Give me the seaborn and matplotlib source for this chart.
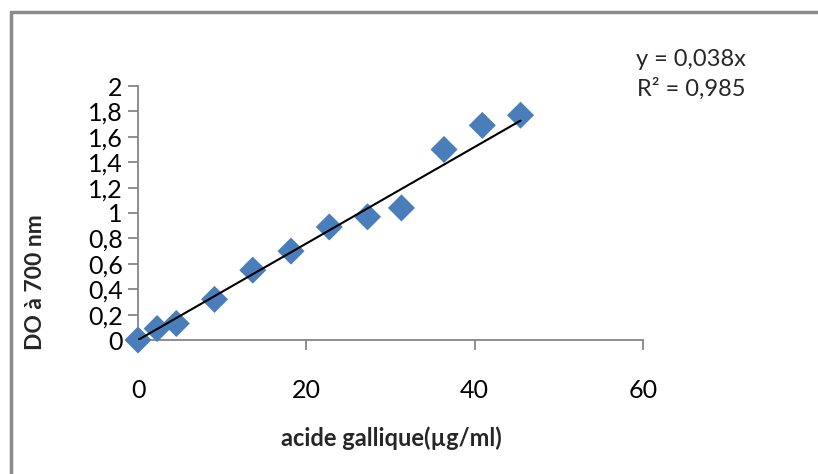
import matplotlib
matplotlib.use("Agg")
import matplotlib.pyplot as plt
from matplotlib.patches import Rectangle
import seaborn as sns
import pandas as pd
import numpy as np

# Gallic acid calibration: concentration (µg/ml) vs absorbance at 700 nm
concentration = [0, 2.27, 4.55, 9.09, 13.64, 18.18, 22.73, 27.27, 31.3, 36.36, 40.91, 45.45]
absorbance = [0.0, 0.09, 0.13, 0.32, 0.55, 0.70, 0.89, 0.97, 1.04, 1.50, 1.69, 1.77]
slope = 0.038
r_squared = 0.985
x_ticks = [0, 20, 40, 60]
y_ticks = [0, 0.2, 0.4, 0.6, 0.8, 1.0, 1.2, 1.4, 1.6, 1.8, 2.0]

df = pd.DataFrame({"conc": concentration, "do": absorbance})

sns.set_theme(style="white")
plt.rcParams["font.family"] = ["Lato", "DejaVu Sans"]

W, H = 818, 474
fig = plt.figure(figsize=(W / 100, H / 100), dpi=100)
ax = fig.add_axes([138 / W, 1 - 340 / H, (643 - 138) / W, (340 - 86) / H])

sns.scatterplot(data=df, x="conc", y="do", marker="D", s=190,
                color="#4A7EBB", edgecolor="none", ax=ax, zorder=3, clip_on=False)

# Linear trendline forced through the origin
xl = np.array([0, max(concentration)])
sns.lineplot(x=xl, y=slope * xl, color="black", linewidth=1.5, ax=ax, zorder=4)

ax.set_xlim(0, 60)
ax.set_ylim(0, 2)
ax.set_xticks(x_ticks)
ax.set_yticks(y_ticks)
ax.set_xticklabels([str(v) for v in x_ticks])
ax.set_yticklabels([("%g" % v).replace(".", ",") for v in y_ticks])

grey = "#868686"
for side in ["top", "right"]:
    ax.spines[side].set_visible(False)
for side in ["left", "bottom"]:
    ax.spines[side].set_color(grey)
    ax.spines[side].set_linewidth(1.3)

ax.tick_params(axis="both", which="major", direction="out", length=7, width=1.3,
               color=grey, labelsize=18, labelcolor="black")
ax.tick_params(axis="x", pad=21, bottom=True)
ax.tick_params(axis="y", pad=4, left=True)
ax.set_xlabel("")
ax.set_ylabel("")

fig.text(391 / W, 1 - 438 / H, "acide gallique(µg/ml)", ha="center", va="center",
         fontsize=17, fontweight="bold")
fig.text(36 / W, 1 - 282 / H, "DO à 700 nm", ha="center", va="center",
         rotation=90, fontsize=16.5, fontweight="bold")

fig.text(691 / W, 1 - 60 / H, "y = 0,038x", ha="center", va="center", fontsize=17)
fig.text(691 / W, 1 - 89 / H, "R² = 0,985", ha="center", va="center", fontsize=17)

# Chart frame: only its top and left edges fall inside the canvas
fig.patches.append(Rectangle((10.5 / W, -0.2), 1.5, 1.2 - 12 / H, transform=fig.transFigure,
                             fill=False, edgecolor="#8C8C8C", linewidth=2.5))

fig.savefig("out.png", dpi=100)
